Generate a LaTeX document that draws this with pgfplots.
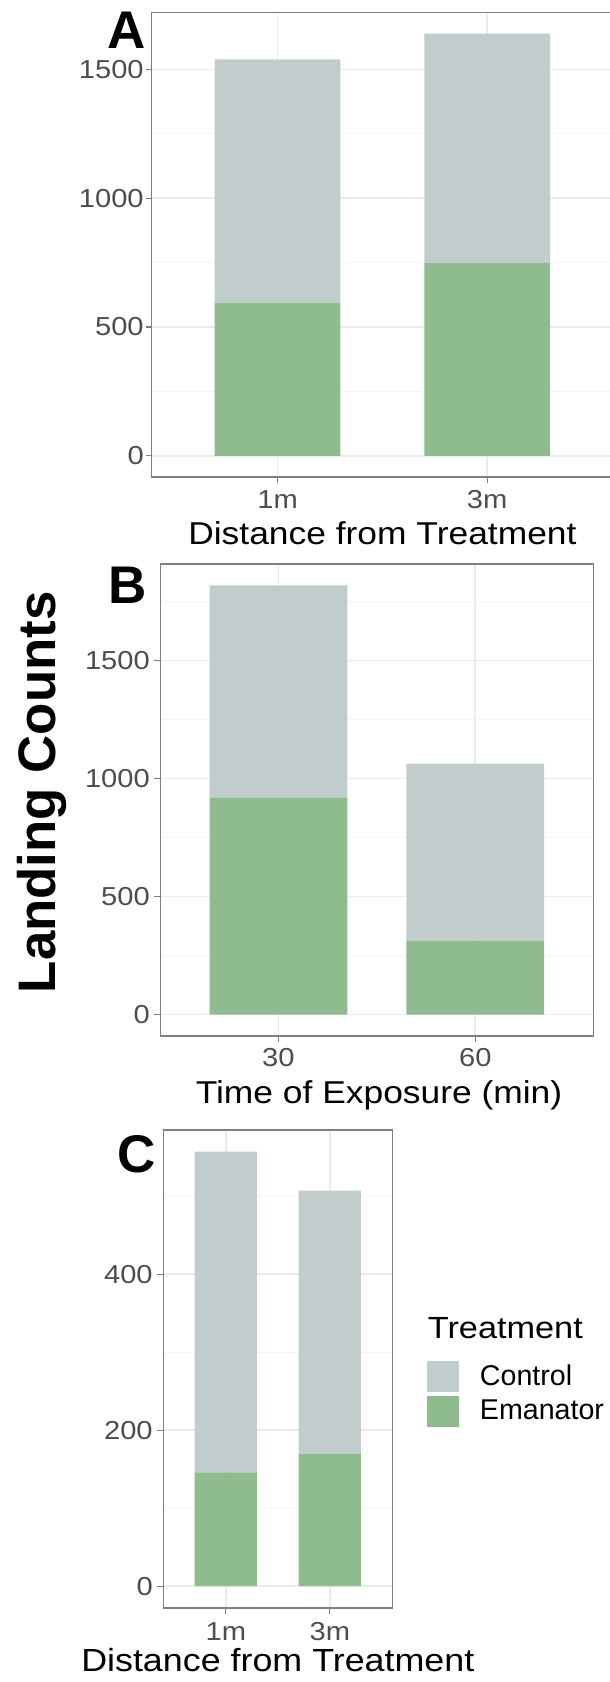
\documentclass[border=0pt]{standalone}
\usepackage{fontspec}
\setmainfont{Liberation Sans}
\newfontfamily\labfont{Liberation Sans}[FakeStretch=1.12]
\usepackage{pgfplots}
\pgfplotsset{compat=1.18}

\definecolor{ctrl}{HTML}{C1CDCD}
\definecolor{eman}{HTML}{8FBC8F}
\definecolor{gridmaj}{HTML}{EBEBEB}
\definecolor{gridmin}{HTML}{F4F4F4}
\definecolor{frame}{HTML}{7F7F7F}
\definecolor{ticklab}{HTML}{4D4D4D}

\pgfplotsset{
  panel/.style={
    scale only axis, anchor=north west,
    ybar stacked,
    xmin=0.4, xmax=2.6, xtick={1,2},
    axis line style={frame, line width=0.6pt},
    tick style={frame, line width=0.6pt},
    major tick length=3pt, minor tick length=0pt,
    tick align=outside, tick pos=left,
    xmajorgrids, ymajorgrids, yminorgrids,
    major grid style={gridmaj, line width=0.8pt},
    minor grid style={gridmin, line width=0.5pt},
    ticklabel style={font=\labfont\fontsize{13}{13}\selectfont, text=ticklab, inner sep=0pt},
    /pgf/number format/assume math mode=true,
    /pgf/number format/1000 sep={},
    xlabel style={font=\labfont\fontsize{15.8}{15.8}\selectfont, anchor=base, inner sep=0pt},
    legend image code/.code={\fill[##1] (0pt,-7.8pt) rectangle (15.85pt,7.8pt);},
  },
}

\begin{document}
\begin{tikzpicture}
\useasboundingbox (0,0) rectangle (305pt,-841pt);

% A: distance from treatment
\begin{axis}[panel, at={(75.9pt,-6.25pt)}, width=230.6pt, height=232.2pt,
  ymin=-81.95, ymax=1720.95, ytick={0,500,1000,1500}, minor ytick={250,750,1250},
  bar width=0.6, xticklabels={1m,3m},
  yticklabel style={xshift=-0.85pt}, xticklabel style={yshift=-3.55pt},
  xlabel={Distance from Treatment},
  xlabel style={at={(axis description cs:0.5,-0.1466)}}]
\addplot[fill=eman, draw=none] coordinates {(1,595) (2,748)};
\addplot[fill=ctrl, draw=none] coordinates {(1,944) (2,891)};
\end{axis}

% B: time of exposure
\begin{axis}[panel, at={(80.15pt,-281.95pt)}, width=216.55pt, height=236.05pt,
  ymin=-90.95, ymax=1909.95, ytick={0,500,1000,1500}, minor ytick={250,750,1250,1750},
  bar width=0.7, xticklabels={30,60},
  yticklabel style={xshift=-2.05pt}, xticklabel style={yshift=-2.95pt},
  xlabel={Time of Exposure (min)},
  xlabel style={at={(axis description cs:0.505,-0.1436)}}]
\addplot[fill=eman, draw=none] coordinates {(1,918) (2,313)};
\addplot[fill=ctrl, draw=none] coordinates {(1,901) (2,750)};
\end{axis}

% C: distance from treatment, second trial
\begin{axis}[panel, at={(81.7pt,-564.95pt)}, width=114.4pt, height=239pt,
  ymin=-27.85, ymax=584.85, ytick={0,200,400}, minor ytick={100,300,500},
  bar width=0.6, xticklabels={1m,3m},
  yticklabel style={xshift=-2.15pt}, xticklabel style={yshift=-3.95pt},
  xlabel={Distance from Treatment},
  xlabel style={at={(axis description cs:0.5,-0.132)}, font=\labfont\fontsize{16}{16}\selectfont},
  reverse legend,
  legend style={at={(1.1534,0.5165)}, anchor=north west, draw=none, fill=none,
    inner sep=0pt, outer sep=0pt, row sep=1.7pt, column sep=10.5pt,
    font=\fontsize{14.3}{14.3}\selectfont, cells={anchor=west}, nodes={inner sep=0pt}}]
\addplot[fill=eman, draw=none] coordinates {(1,146) (2,170)};
\addplot[fill=ctrl, draw=none] coordinates {(1,411) (2,337)};
\legend{Emanator,Control}
\end{axis}

\node[anchor=base west, inner sep=0pt, font=\bfseries\fontsize{26.5}{26.5}\selectfont] at (53.35pt,-24.15pt) {A};
\node[anchor=base west, inner sep=0pt, font=\bfseries\fontsize{26.5}{26.5}\selectfont] at (53.95pt,-301.65pt) {B};
\node[anchor=base west, inner sep=0pt, font=\bfseries\fontsize{26.5}{26.5}\selectfont] at (58.5pt,-586.25pt) {C};
\node[rotate=90, anchor=base, inner sep=0pt, font=\bfseries\fontsize{26.4}{26.4}\selectfont] at (27.65pt,-396.15pt) {Landing Counts};
\node[anchor=base west, inner sep=0pt, font=\labfont\fontsize{15.3}{15.3}\selectfont] at (213.75pt,-669.15pt) {Treatment};
\end{tikzpicture}
\end{document}
